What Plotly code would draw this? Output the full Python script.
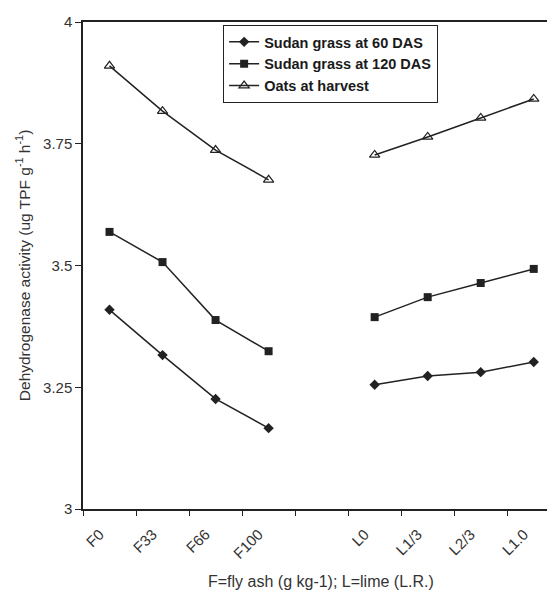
import plotly.graph_objects as go

categories = ["F0", "F33", "F66", "F100", " ", "L0", "L1/3", "L2/3", "L1.0"]
sudan_60 = [3.409, 3.316, 3.226, 3.166, None, 3.255, 3.273, 3.281, 3.302]
sudan_120 = [3.569, 3.507, 3.388, 3.324, None, 3.394, 3.435, 3.464, 3.493]
oats = [3.910, 3.817, 3.737, 3.676, None, 3.727, 3.764, 3.803, 3.842]
y_ticks = [3, 3.25, 3.5, 3.75, 4]
y_tick_labels = ["3", "3.25", "3.5", "3.75", "4"]

ink = "#222222"
font_family = "Liberation Sans, Arial, sans-serif"

fig = go.Figure()
fig.add_trace(go.Scatter(x=categories, y=sudan_60, name="Sudan grass at 60 DAS",
                         mode="lines+markers", connectgaps=False,
                         line=dict(color=ink, width=1.5),
                         marker=dict(symbol="diamond", size=8, color=ink)))
fig.add_trace(go.Scatter(x=categories, y=sudan_120, name="Sudan grass at 120 DAS",
                         mode="lines+markers", connectgaps=False,
                         line=dict(color=ink, width=1.5),
                         marker=dict(symbol="square", size=8, color=ink)))
fig.add_trace(go.Scatter(x=categories, y=oats, name="Oats at harvest",
                         mode="lines+markers", connectgaps=False,
                         line=dict(color=ink, width=1.5),
                         marker=dict(symbol="triangle-up-open", size=9, color=ink,
                                     line=dict(width=1.2, color=ink))))

fig.update_layout(
    width=547, height=590,
    margin=dict(l=83, r=0, t=22, b=81),
    paper_bgcolor="white", plot_bgcolor="white",
    font=dict(family=font_family, size=15, color="#333333"),
    showlegend=True,
    legend=dict(x=0.302, y=0.994, xanchor="left", yanchor="top",
                bordercolor=ink, borderwidth=1, bgcolor="white",
                font=dict(size=14.5, color="#1a1a1a", family=font_family, weight="bold"),
                itemwidth=30, tracegroupgap=0),
    xaxis=dict(type="category", categoryorder="array", categoryarray=categories,
               range=[-0.5, 8.25], tickson="boundaries", automargin=False,
               showline=True, linecolor=ink, linewidth=1.5, mirror=True,
               ticks="outside", ticklen=5, tickcolor=ink, tickangle=-45,
               ticklabelshift=-10, ticklabelstandoff=9,
               showgrid=False, zeroline=False,
               tickfont=dict(size=15, color="#333333")),
    yaxis=dict(range=[3, 4], tickvals=y_ticks, ticktext=y_tick_labels, automargin=False,
               showline=True, linecolor=ink, linewidth=1.5,
               ticks="outside", ticklen=6, tickcolor=ink,
               showgrid=False, zeroline=False,
               tickfont=dict(size=15, color="#333333")),
)

fig.add_annotation(text="F=fly ash (g kg-1); L=lime (L.R.)", xref="paper", yref="paper",
                   x=0.513, y=-0.148, xanchor="center", yanchor="middle",
                   showarrow=False, font=dict(size=16, color="#333333"))
fig.add_annotation(text="Dehydrogenase activity (ug TPF g<sup>-1</sup> h<sup>-1</sup>)",
                   xref="paper", yref="paper", x=-0.13, y=0.5,
                   xanchor="center", yanchor="middle", textangle=-90,
                   showarrow=False, font=dict(size=15.5, color="#333333"))

fig.write_html("out.html", config={"displayModeBar": False},
               post_script="document.body.style.margin='0';document.body.style.overflow='hidden';")
